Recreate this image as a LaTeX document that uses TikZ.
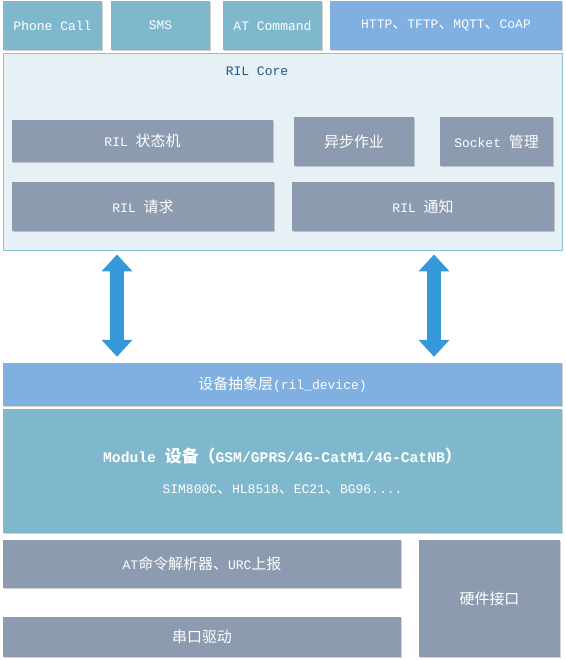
\documentclass[tikz,border=0pt]{standalone}
\usepackage{fontspec}
\setmainfont{Liberation Mono}
\newfontfamily\cjk[Scale=1.15]{Noto Sans CJK SC}
\newcommand\zhtxt[1]{{\cjk #1}}
\usetikzlibrary{shadows,arrows.meta}
\definecolor{teal1}{RGB}{127,184,204}
\definecolor{blue1}{RGB}{127,176,225}
\definecolor{gray1}{RGB}{141,155,176}
\definecolor{corefill}{RGB}{231,240,244}
\definecolor{coreline}{RGB}{142,193,214}
\definecolor{arrowc}{RGB}{53,152,219}
\definecolor{coretext}{RGB}{31,90,140}
\tikzset{
  box/.style={rectangle, inner sep=0pt, text=white, font=\fontsize{13}{15}\selectfont,
    drop shadow={shadow xshift=1.2pt, shadow yshift=-1.2pt, fill=black, opacity=0.18}},
  tealbox/.style={box, fill=teal1},
  bluebox/.style={box, fill=blue1},
  graybox/.style={box, fill=gray1},
  corebox/.style={rectangle, inner sep=0pt, fill=corefill, draw=coreline, line width=0.9pt,
    drop shadow={shadow xshift=1pt, shadow yshift=-1pt, fill=black, opacity=0.12}},
  bigarrow/.style={draw=arrowc, line width=13.5pt,
    {Triangle[width=30pt,length=17pt]}-{Triangle[width=30pt,length=17pt]}}
}
\begin{document}
\begin{tikzpicture}[x=1pt,y=-1pt]
\useasboundingbox (0,0) rectangle (565,660);
% top row
\node[tealbox, minimum width=99, minimum height=49] (pc) at (52.5,25.5) {Phone Call};
\node[tealbox, minimum width=99, minimum height=49] (sms) at (160.5,25.5) {SMS};
\node[tealbox, minimum width=99, minimum height=49] (atc) at (272.5,25.5) {AT Command};
\node[bluebox, minimum width=232, minimum height=49] (http) at (446,25.5) {HTTP\zhtxt{、}TFTP\zhtxt{、}MQTT\zhtxt{、}CoAP};
% RIL core
\node[corebox, minimum width=559, minimum height=197] (core) at (282.5,151.5) {};
\node[text=coretext, font=\fontsize{13}{15}\selectfont, inner sep=0pt] (coretitle) at (257,71) {RIL Core};
\node[graybox, minimum width=261, minimum height=42] (fsm) at (142.5,141) {RIL \zhtxt{状态机}};
\node[graybox, minimum width=120, minimum height=49] (async) at (354,141.5) {\zhtxt{异步作业}};
\node[graybox, minimum width=113, minimum height=49] (sock) at (496.5,141.5) {Socket \zhtxt{管理}};
\node[graybox, minimum width=262, minimum height=49] (req) at (143,206.5) {RIL \zhtxt{请求}};
\node[graybox, minimum width=262, minimum height=49] (ntf) at (423,206.5) {RIL \zhtxt{通知}};
% device layer
\node[bluebox, minimum width=559, minimum height=43] (dev) at (282.5,384.5) {\zhtxt{设备抽象层}(ril\_device)};
\node[tealbox, minimum width=559, minimum height=124, align=center] (mod) at (282.5,471)
  {{\fontsize{14.7}{17}\selectfont\bfseries Module \zhtxt{设备（}GSM/GPRS/4G-CatM1/4G-CatNB\zhtxt{）}}\\[16pt]
   SIM800C\zhtxt{、}HL8518\zhtxt{、}EC21\zhtxt{、}BG96....};
% bottom
\node[graybox, minimum width=398, minimum height=48] (atp) at (202,564) {AT\zhtxt{命令解析器、}URC\zhtxt{上报}};
\node[graybox, minimum width=398, minimum height=40] (uart) at (202,637) {\zhtxt{串口驱动}};
\node[graybox, minimum width=141, minimum height=117] (hw) at (489.5,598.5) {\zhtxt{硬件接口}};
% arrows
\draw[bigarrow, shorten <=4pt, shorten >=6pt] ([xshift=-165.5pt]core.south) -- ([xshift=-165.5pt]dev.north);
\draw[bigarrow, shorten <=4pt, shorten >=6pt] ([xshift=151.5pt]core.south) -- ([xshift=151.5pt]dev.north);
\end{tikzpicture}
\end{document}
